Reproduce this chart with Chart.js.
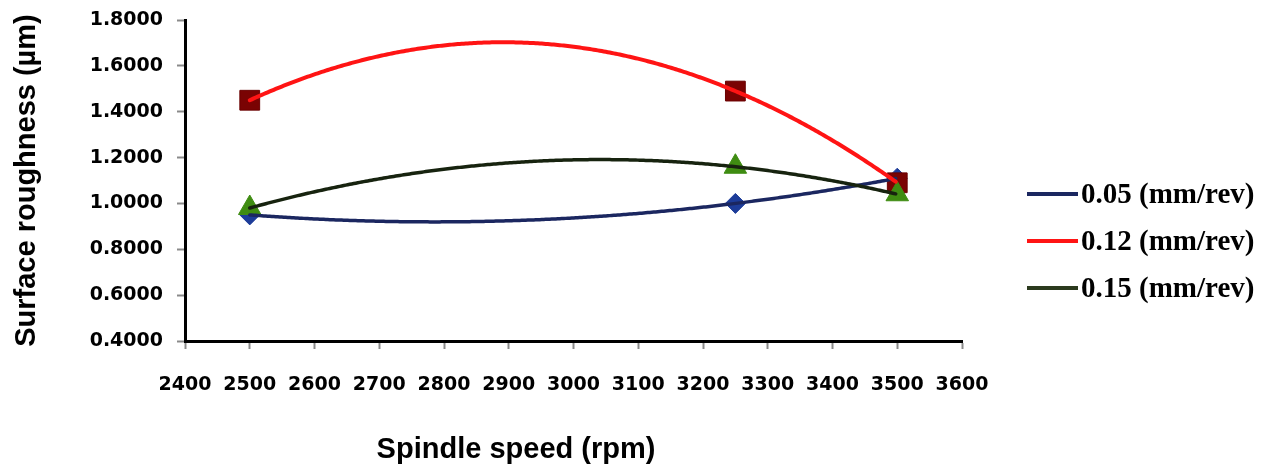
<!DOCTYPE html>
<html>
<head>
<meta charset="utf-8">
<script src="https://cdn.jsdelivr.net/npm/chart.js@4.4.1/dist/chart.umd.min.js"></script>
<style>
  html, body { margin: 0; padding: 0; background: #fff; }
  canvas { display: block; }
</style>
</head>
<body>
<canvas id="chart" width="1268" height="471"></canvas>
<script>
// Spindle speed (rpm) where the roughness was measured
var speeds = [2500, 3250, 3500];

// Surface roughness (um) for each feed rate
var feed005 = [0.95, 1.00, 1.11];
var feed012 = [1.45, 1.49, 1.09];
var feed015 = [0.98, 1.16, 1.04];

var seriesLabels = ['0.05 (mm/rev)', '0.12 (mm/rev)', '0.15 (mm/rev)'];

// Axis ranges / tick steps
var xMin = 2400, xMax = 3600, xStep = 100;
var yMin = 0.4, yMax = 1.8, yStep = 0.2;

var xTitle = 'Spindle speed (rpm)';
var yTitle = 'Surface roughness (µm)';

function toPoints(values) {
    return speeds.map(function (s, i) { return { x: s, y: values[i] }; });
}

// Draws the 2nd order trendline through each series, using the chart scales
var trendPlugin = {
    id: 'trend',
    afterDatasetsDraw: function (chart) {
        var ctx = chart.ctx;
        var xs = chart.scales.x, ys = chart.scales.y;
        var drawOrder = [0, 2, 1];
        drawOrder.forEach(function (di) {
            var ds = chart.data.datasets[di];
            var p = ds.data;
            // Lagrange form of the quadratic through the three points
            function f(x) {
                var sum = 0;
                for (var i = 0; i < p.length; i++) {
                    var term = p[i].y;
                    for (var j = 0; j < p.length; j++) {
                        if (j !== i) term *= (x - p[j].x) / (p[i].x - p[j].x);
                    }
                    sum += term;
                }
                return sum;
            }
            var px0 = xs.getPixelForValue(p[0].x);
            var px1 = xs.getPixelForValue(p[p.length - 1].x);
            ctx.save();
            ctx.beginPath();
            for (var px = px0; px <= px1 + 0.01; px += 2) {
                var v = xs.getValueForPixel(Math.min(px, px1));
                var py = ys.getPixelForValue(f(v));
                if (px === px0) ctx.moveTo(px, py); else ctx.lineTo(Math.min(px, px1), py);
            }
            ctx.strokeStyle = ds.trendColor;
            ctx.lineWidth = ds.trendWidth;
            ctx.lineJoin = 'round';
            ctx.lineCap = 'round';
            ctx.stroke();
            ctx.restore();
        });
    }
};

// Legend on the right side and the x title (off-centre in the original)
var sideLegend = {
    id: 'sideLegend',
    afterDraw: function (chart) {
        var ctx = chart.ctx;
        var rows = [194, 241, 288];
        ctx.save();
        chart.data.datasets.forEach(function (ds, i) {
            ctx.beginPath();
            ctx.moveTo(1027, rows[i]);
            ctx.lineTo(1078, rows[i]);
            ctx.strokeStyle = ds.legendColor;
            ctx.lineWidth = 4;
            ctx.stroke();
            ctx.fillStyle = '#000';
            ctx.font = 'bold 29px "Liberation Serif", "Times New Roman", serif';
            ctx.textBaseline = 'middle';
            ctx.textAlign = 'left';
            ctx.fillText(ds.label, 1081, rows[i] + 2);
        });

        ctx.font = 'bold 29px "Liberation Sans", Arial, sans-serif';
        ctx.textAlign = 'center';
        ctx.textBaseline = 'middle';
        ctx.fillStyle = '#000';
        ctx.fillText(xTitle, 516, 450);
        ctx.restore();
    }
};

var tickFont = { family: '"DejaVu Sans", Verdana, sans-serif', size: 19, weight: 'bold' };
var titleFont = { family: '"Liberation Sans", Arial, sans-serif', size: 29, weight: 'bold' };

var chart = new Chart(document.getElementById('chart').getContext('2d'), {
    type: 'scatter',
    data: {
        datasets: [{
            label: seriesLabels[0],
            data: toPoints(feed005),
            pointStyle: 'rectRot',
            pointRadius: 10,
            backgroundColor: '#1d3c99',
            borderColor: '#1d3c99',
            borderWidth: 1,
            trendColor: '#1b2760',
            trendWidth: 3.5,
            legendColor: '#1b2760',
            order: 2
        }, {
            label: seriesLabels[1],
            data: toPoints(feed012),
            pointStyle: 'rect',
            pointRadius: 14,
            backgroundColor: '#7a0303',
            borderColor: '#6a0000',
            borderWidth: 1,
            trendColor: '#ff1414',
            trendWidth: 4,
            legendColor: '#ff1414',
            order: 1
        }, {
            label: seriesLabels[2],
            data: toPoints(feed015),
            pointStyle: 'triangle',
            pointRadius: 13,
            backgroundColor: '#3f8c12',
            borderColor: '#3f8c12',
            borderWidth: 1,
            trendColor: '#17230f',
            trendWidth: 3.5,
            legendColor: '#2b3a1e',
            order: 0
        }]
    },
    options: {
        responsive: false,
        animation: false,
        events: [],
        layout: { padding: { left: 0, top: 20, right: 306, bottom: 0 } },
        plugins: {
            legend: { display: false },
            tooltip: { enabled: false }
        },
        scales: {
            x: {
                type: 'linear',
                min: xMin,
                max: xMax,
                afterFit: function (scale) {
                    scale.height = 130;
                    scale.paddingLeft = 0;
                    scale.paddingRight = 0;
                },
                ticks: {
                    stepSize: xStep,
                    autoSkip: false,
                    maxRotation: 0,
                    padding: 25,
                    color: '#000',
                    font: tickFont,
                    callback: function (v) { return String(v); }
                },
                grid: {
                    drawOnChartArea: false,
                    tickLength: 8,
                    tickColor: '#8a8a8a',
                    tickWidth: 2
                },
                border: { display: true, color: '#000', width: 3 },
                title: { display: false, text: xTitle }
            },
            y: {
                type: 'linear',
                min: yMin,
                max: yMax,
                afterFit: function (scale) {
                    scale.width = 185;
                    scale.paddingTop = 0;
                    scale.paddingBottom = 0;
                },
                ticks: {
                    stepSize: yStep,
                    padding: 14,
                    color: '#000',
                    font: tickFont,
                    callback: function (v) { return Number(v).toFixed(4); }
                },
                grid: {
                    drawOnChartArea: false,
                    tickLength: 8,
                    tickColor: '#8a8a8a',
                    tickWidth: 2
                },
                border: { display: true, color: '#000', width: 3 },
                title: {
                    display: true,
                    text: yTitle,
                    color: '#000',
                    font: titleFont,
                    padding: { top: 10, bottom: 0 }
                }
            }
        }
    },
    plugins: [trendPlugin, sideLegend]
});
</script>
</body>
</html>
